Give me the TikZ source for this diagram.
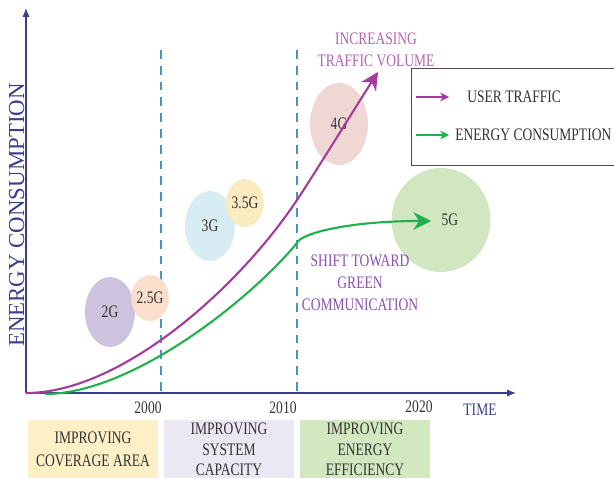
\documentclass[tikz,border=0pt]{standalone}
\usepackage{fontspec}
\setmainfont[FakeStretch=0.77]{Liberation Serif}
\newfontfamily\axisfont{Liberation Serif}
\usepackage{tikz}
\usetikzlibrary{arrows.meta,shapes.geometric}
\definecolor{axisblue}{HTML}{3A3F8C}
\definecolor{dashblue}{HTML}{4C93C4}
\definecolor{traffic}{HTML}{A43C9E}
\definecolor{energy}{HTML}{20B04C}
\definecolor{notepurple}{HTML}{B463B0}
\definecolor{shiftpurple}{HTML}{8C4FB4}
\definecolor{gtwo}{HTML}{CDC3DE}
\definecolor{gtwofive}{HTML}{FADFCD}
\definecolor{gthree}{HTML}{D8EDF3}
\definecolor{gthreefive}{HTML}{FBEBC0}
\definecolor{gfour}{HTML}{EFD8D3}
\definecolor{gfive}{HTML}{D1E7C1}
\definecolor{phaseyellow}{HTML}{FDF0C6}
\definecolor{phaselilac}{HTML}{ECE8F3}
\definecolor{phasegreen}{HTML}{D2E8C0}

\begin{document}
\begin{tikzpicture}[x=0.02cm,y=-0.02cm,
  font=\fontsize{10}{12.5}\selectfont,
  axis/.style={axisblue,line width=0.6pt,-{Latex[length=5pt,width=4pt]}},
  era/.style={dashblue,line width=0.8pt,dash pattern=on 5pt off 4pt},
  gen/.style={ellipse,inner sep=0pt,text=black!80},
  curve/.style={line width=1.2pt,-{Stealth[length=10pt,width=10pt]}},
  keyarrow/.style={line width=0.8pt,-{Stealth[length=5pt,width=5pt]}},
  phase/.style={align=center,anchor=north,inner sep=0pt,text=black!80,
    minimum width=2.6cm,minimum height=1.16cm,font=\fontsize{10}{11.5}\selectfont},
  note/.style={align=center,inner sep=0pt},
  tick/.style={inner sep=0pt,text=black!80}]
\useasboundingbox (0,0) rectangle (614,479);
\clip (0,0) rectangle (614,479);

% axes
\coordinate (origin) at (26,393);
\coordinate (ytop) at (26,8);
\coordinate (xend) at (516,393);
\draw[axis] (origin) -- (ytop);
\draw[axis] (origin) -- (xend);
\node[rotate=90,anchor=base,inner sep=0pt,axisblue,font=\axisfont\fontsize{13}{15}\selectfont]
  (ylabel) at (24,215) {ENERGY CONSUMPTION};
\node[tick,text=axisblue] (time) at (480,410) {TIME};
\node[tick] (y2000) at (148,408) {2000};
\node[tick] (y2010) at (283,408) {2010};
\node[tick] (y2020) at (419,407) {2020};

% era borders
\coordinate (d1top) at (161,50);
\coordinate (d1bot) at (161,393);
\coordinate (d2top) at (297,50);
\coordinate (d2bot) at (297,393);
\draw[era] (d1top) -- (d1bot);
\draw[era] (d2top) -- (d2bot);

% generations
\node[gen,fill=gtwo,minimum width=1cm,minimum height=1.4cm] (g2) at (110,312) {2G};
\node[gen,fill=gtwofive,minimum width=0.64cm,minimum height=0.92cm] (g25) at (150,298) {2.5G};
\node[gen,fill=gthree,minimum width=1cm,minimum height=1.4cm] (g3) at (210,226) {3G};
\node[gen,fill=gthreefive,minimum width=0.64cm,minimum height=0.96cm] (g35) at (245,203) {3.5G};
\node[gen,fill=gfour,minimum width=1.16cm,minimum height=1.64cm] (g4) at (339,124) {4G};
\node[gen,fill=gfive,minimum width=1.4cm,minimum height=2.08cm,text width=1.4cm,align=center] (g5) at (441,220) {\hspace*{10pt}5G};

% curves
\coordinate (tbend) at (297,200);
\coordinate (tend) at (378,72);
\coordinate (estart) at (45,394);
\coordinate (ekink) at (297,243);
\coordinate (eend) at (431,221);
\draw[curve,traffic] (origin) .. controls (120,393) and (237,290) .. (tbend)
  .. controls (320,165) and (355,108) .. (tend);
\draw[curve,energy] (estart) .. controls (130,394) and (247,303) .. (ekink)
  .. controls (301,233) and (350,221) .. (eend);

\node[note,text=notepurple] (increase) at (376,50) {INCREASING\\TRAFFIC VOLUME};
\node[note,text=shiftpurple] (shift) at (360,283) {SHIFT TOWARD\\GREEN\\COMMUNICATION};

% legend
\node[draw=black!70,line width=0.6pt,anchor=north west,inner sep=0pt,
  minimum width=4.1cm,minimum height=1.94cm] (key) at (411,68) {};
\coordinate (k1a) at (416,97);
\coordinate (k1b) at (449,97);
\coordinate (k2a) at (416,135);
\coordinate (k2b) at (449,135);
\draw[keyarrow,traffic] (k1a) -- (k1b);
\draw[keyarrow,energy] (k2a) -- (k2b);
\node[anchor=west,inner sep=0pt,text=black!80] (k1) at (467,97) {USER TRAFFIC};
\node[anchor=west,inner sep=0pt,text=black!80] (k2) at (455,135) {ENERGY CONSUMPTION};

% phases
\node[phase,fill=phaseyellow] (coverage) at (93,420) {IMPROVING\\[2pt]COVERAGE AREA};
\node[phase,fill=phaselilac] (capacity) at (229,420) {IMPROVING\\SYSTEM\\CAPACITY};
\node[phase,fill=phasegreen] (efficiency) at (365,420) {IMPROVING\\ENERGY\\EFFICIENCY};
\end{tikzpicture}
\end{document}
